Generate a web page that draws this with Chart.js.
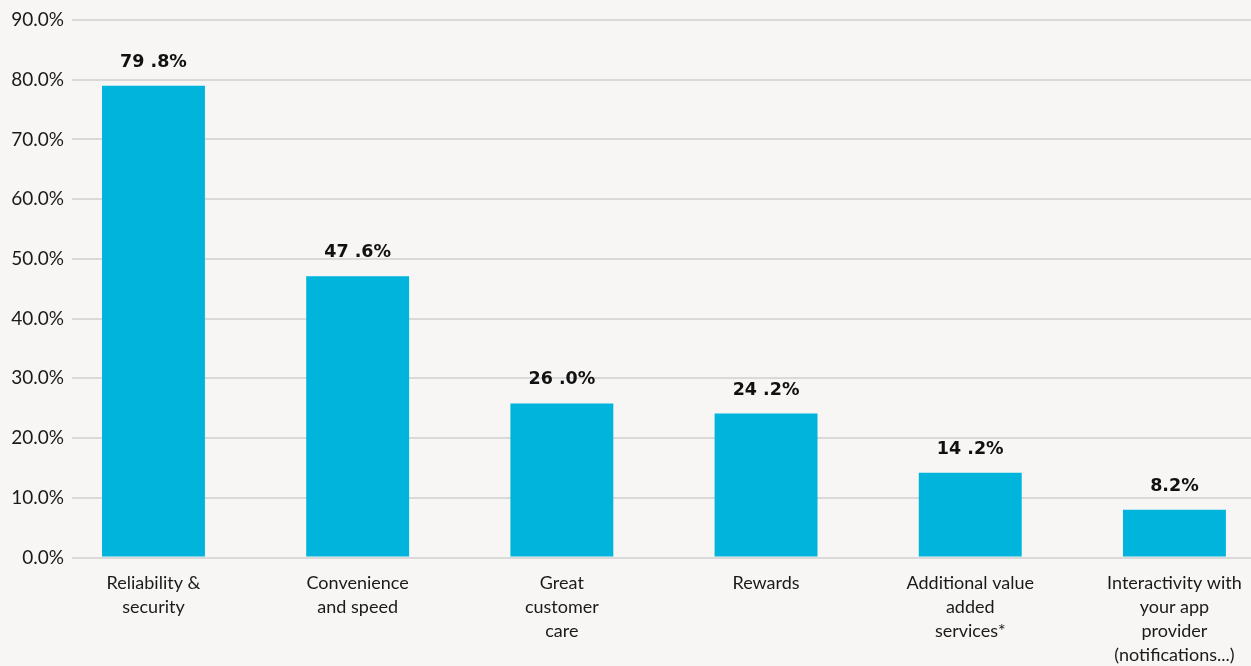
<!DOCTYPE html>
<html>
<head>
<meta charset="utf-8">
<script src="https://cdn.jsdelivr.net/npm/chart.js@4.4.1/dist/chart.umd.min.js"></script>
<style>
  html, body { margin: 0; padding: 0; background: #f7f6f4; overflow: hidden; }
  #wrap { width: 1251px; height: 666px; }
</style>
</head>
<body>
<div id="wrap"><canvas id="chart" width="1251" height="666"></canvas></div>
<script>
  "use strict";

  const categories = [
    ["Reliability &", "security"],
    ["Convenience", "and speed"],
    ["Great", "customer", "care"],
    ["Rewards"],
    ["Additional value", "added", "services*"],
    ["Interactivity with", "your app", "provider", "(notifications...)"],
  ];
  const values = [79.0, 47.1, 25.8, 24.1, 14.2, 8.0];
  const valueLabels = ["79 .8%", "47 .6%", "26 .0%", "24 .2%", "14 .2%", "8.2%"];
  const yTicks = [0, 10, 20, 30, 40, 50, 60, 70, 80, 90];

  const FONT = "Lato, 'Noto Sans', sans-serif";

  const barLabels = {
    id: "barLabels",
    afterDatasetsDraw(chart) {
      const ctx = chart.ctx;
      const meta = chart.getDatasetMeta(0);
      ctx.save();
      ctx.font = "bold 17.5px 'DejaVu Sans', sans-serif";
      ctx.fillStyle = "#111111";
      ctx.textAlign = "center";
      ctx.textBaseline = "alphabetic";
      meta.data.forEach((bar, i) => {
        ctx.fillText(valueLabels[i], bar.x, bar.y - 19);
      });
      ctx.restore();
    },
  };

  const ctx = document.getElementById("chart").getContext("2d");
  new Chart(ctx, {
    type: "bar",
    data: {
      datasets: [
        {
          data: values.map((v, i) => ({ x: i, y: v })),
          backgroundColor: "#00b4dc",
          categoryPercentage: 1,
          barPercentage: 0.504,
        },
      ],
    },
    options: {
      responsive: false,
      animation: false,
      layout: { padding: { top: 20, right: 0, left: 0, bottom: 0 } },
      plugins: { legend: { display: false }, tooltip: { enabled: false } },
      scales: {
        x: {
          type: "linear",
          min: -0.399,
          max: 5.375,
          offset: false,
          grid: { display: false, offset: false },
          border: { display: false },
          afterFit: (s) => { s.height = 108.5; },
          afterBuildTicks: (s) => {
            s.ticks = categories.map((c, i) => ({ value: i }));
          },
          ticks: {
            autoSkip: false,
            maxRotation: 0,
            padding: 6,
            color: "#1a1a1a",
            font: { family: FONT, size: 18, lineHeight: 1.33 },
            callback: (v) => categories[v],
          },
        },
        y: {
          min: 0,
          max: 90,
          afterFit: (s) => { s.width = 72; },
          afterBuildTicks: (s) => {
            s.ticks = yTicks.map((t) => ({ value: t }));
          },
          grid: { color: "#d9d9d9", lineWidth: 2, drawTicks: false },
          border: { display: false },
          ticks: {
            padding: 8,
            color: "#1a1a1a",
            font: { family: FONT, size: 19 },
            callback: (v) => v.toFixed(1) + "%",
          },
        },
      },
    },
    plugins: [barLabels],
  });
</script>
</body>
</html>
